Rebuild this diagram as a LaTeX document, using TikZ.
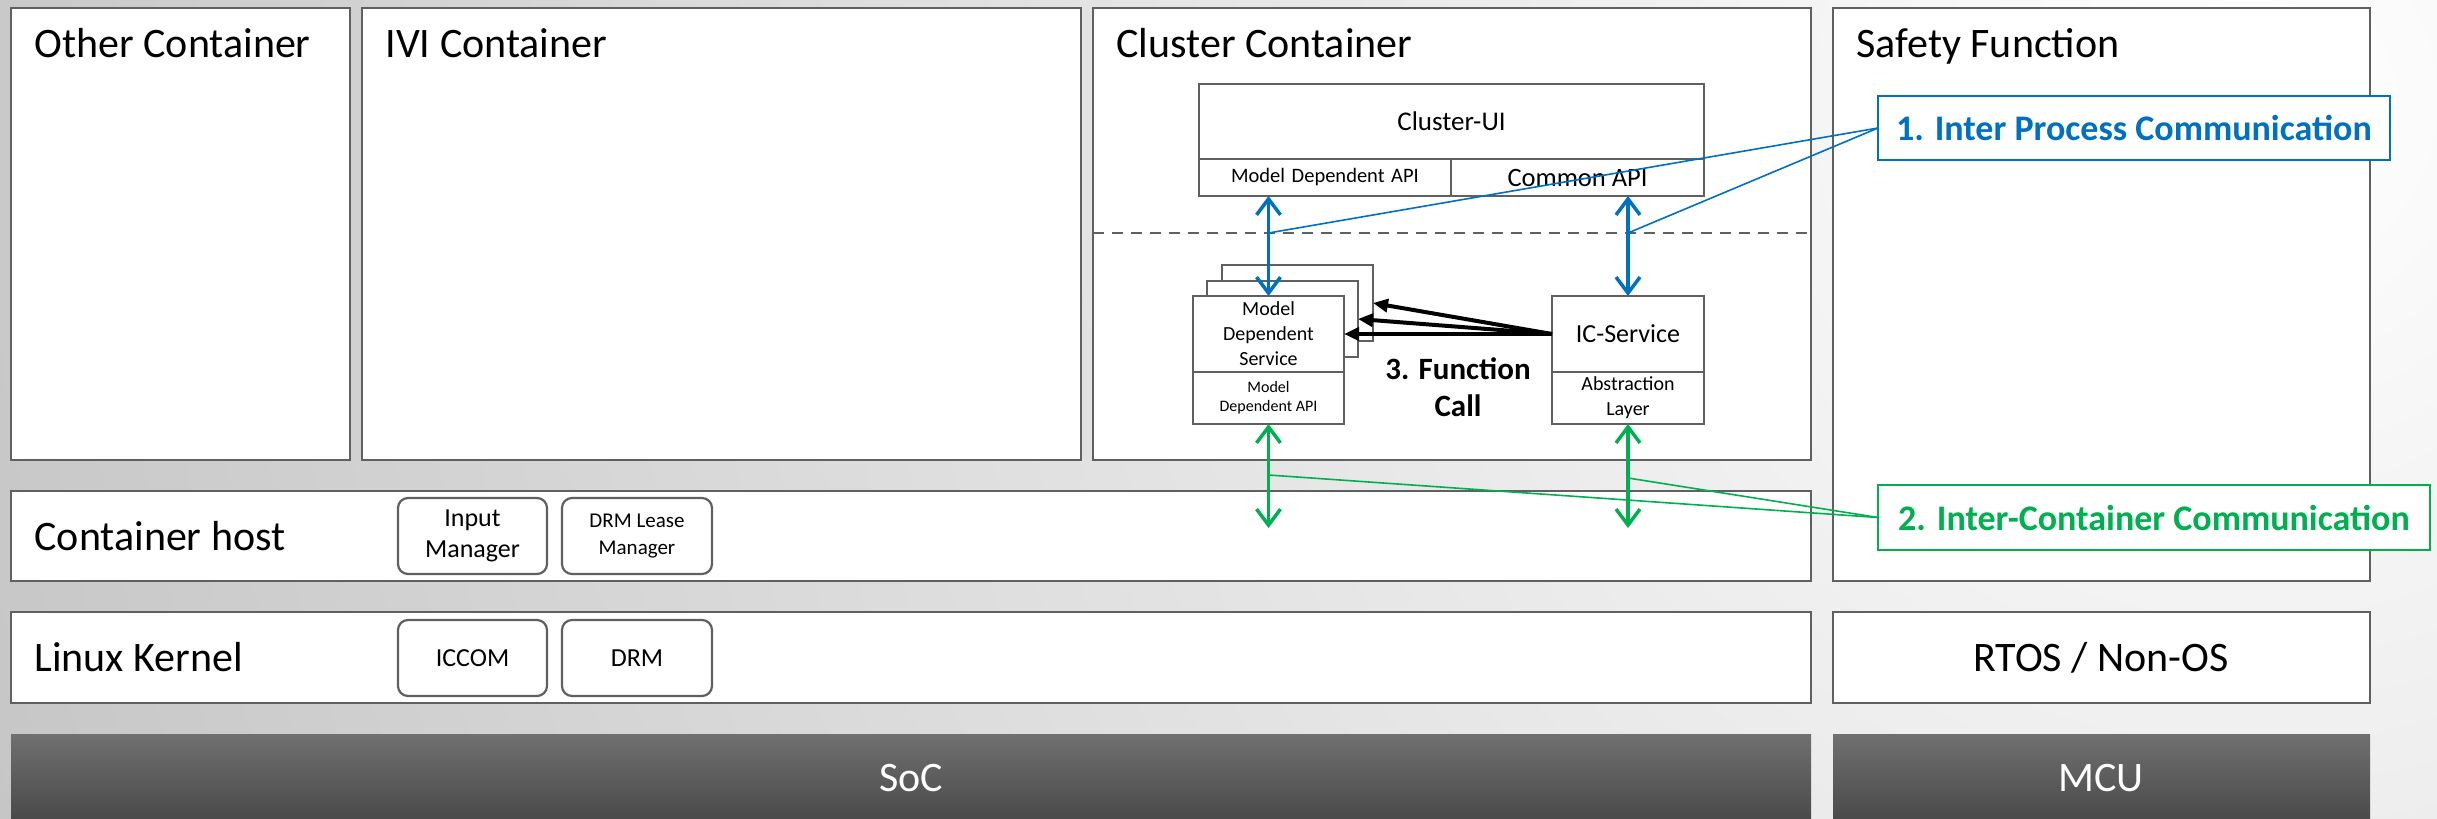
\documentclass[tikz,border=0pt]{standalone}
\usepackage{fontspec}
\setmainfont{Carlito}
\usetikzlibrary{arrows.meta}
\definecolor{boxgray}{RGB}{96,96,96}
\definecolor{ipcblue}{RGB}{0,112,192}
\definecolor{iccgreen}{RGB}{0,176,80}
\definecolor{bggray}{RGB}{196,196,196}
\definecolor{socTop}{RGB}{112,112,112}
\definecolor{socBot}{RGB}{74,74,74}
\newcommand\fsz[2]{\fontsize{#1}{#2}\selectfont}
\newcommand\mkbox[7]{\node[#6, anchor=north west, inner sep=0pt, outer sep=0pt,
  minimum width={(#4-#2)*1pt}, minimum height={(#5-#3)*1pt}] (#1) at (#2,#3) {#7};}
\begin{document}
\begin{tikzpicture}[x=1pt,y=-1pt,
  box/.style={draw=boxgray, line width=2.5pt, fill=white},
  ibox/.style={draw=boxgray, line width=2.5pt, fill=white, align=center},
  rbox/.style={draw=boxgray, line width=2.2pt, fill=white, rounded corners=10pt, align=center},
  socbox/.style={top color=socTop, bottom color=socBot, draw=none},
  title/.style={font=\fsz{42}{50}},
  callout/.style={draw=#1, text=#1, fill=white, line width=2.5pt, font=\bfseries\fsz{36}{40}},
  ipcarrow/.style={{Straight Barb[length=16pt,width=24pt]}-{Straight Barb[length=16pt,width=24pt]}, line width=3.5pt, ipcblue},
  iccarrow/.style={{Straight Barb[length=16pt,width=24pt]}-{Straight Barb[length=16pt,width=24pt]}, line width=3.5pt, iccgreen},
  ipcline/.style={line width=1.6pt, ipcblue},
  iccline/.style={line width=1.6pt, iccgreen},
  fcarrow/.style={-{Triangle[length=15pt,width=13pt]}, line width=4pt, black},
  dashline/.style={draw=boxgray, line width=2.5pt, dash pattern=on 11pt off 8pt}
]
\useasboundingbox (0,0) rectangle (2437,819);
\begin{scope}
  \clip (0,0) rectangle (2437,819);
  \shade[inner color=white, outer color=bggray] (2250pt,-100pt) circle (2450pt);
\end{scope}

% containers
\mkbox{other}{11}{8}{350}{460}{box}{}
\mkbox{ivi}{362}{8}{1081}{460}{box}{}
\mkbox{cluster}{1093}{8}{1811}{460}{box}{}
\mkbox{safety}{1833}{8}{2370}{581}{box}{}
\mkbox{host}{11}{491}{1811}{581}{box}{}
\mkbox{kernel}{11}{612}{1811}{703}{box}{}
\mkbox{rtos}{1833}{612}{2370}{703}{box}{}
\mkbox{soc}{11}{734}{1811}{819}{socbox}{}
\mkbox{mcu}{1833}{734}{2370}{819}{socbox}{}

% titles
\node[title, anchor=base west] (tOther) at (31,57) {Other Container};
\node[title, anchor=base west] (tIvi) at (382,57) {IVI Container};
\node[title, anchor=base west] (tCluster) at (1113,57) {Cluster Container};
\node[title, anchor=base west] (tSafety) at (1853,57) {Safety Function};
\node[title, anchor=base west] (tHost) at (31,550) {Container host};
\node[title, anchor=base west] (tKernel) at (31,671) {Linux Kernel};
\node[title, anchor=base] (tRtos) at (2101,671) {RTOS / Non-OS};
\node[title, anchor=base, text=white] (tSoc) at (911,791) {SoC};
\node[title, anchor=base, text=white] (tMcu) at (2101,791) {MCU};

% host / kernel components
\mkbox{inmgr}{398}{498}{547}{574}{rbox, font=\fsz{26}{31}}{Input\\Manager}
\mkbox{drmlm}{562}{498}{712}{574}{rbox, font=\fsz{21}{27}}{DRM Lease\\Manager}
\mkbox{iccom}{398}{620}{547}{696}{rbox, font=\fsz{26}{30}}{ICCOM}
\mkbox{drm}{562}{620}{712}{696}{rbox, font=\fsz{26}{30}}{DRM}

% cluster internals
\mkbox{cui}{1199}{84}{1704}{159}{ibox, font=\fsz{27}{32}}{Cluster-UI}
\mkbox{mdapi}{1199}{159}{1451}{196}{ibox, font=\fsz{20.5}{24}}{Model\hspace{.32em}Dependent\hspace{.32em}API}
\mkbox{capi}{1451}{159}{1704}{196}{ibox, font=\fsz{26.5}{30}}{Common API}
\mkbox{mdsB}{1222}{265}{1373}{341}{ibox}{}
\mkbox{mdsM}{1207}{281}{1358}{357}{ibox}{}
\mkbox{mds}{1193}{296}{1344}{372}{ibox, font=\fsz{20}{25}}{Model\\Dependent\\Service}
\mkbox{mdsapi}{1193}{372}{1344}{424}{ibox, font=\fsz{16}{19}}{Model\\Dependent API}
\mkbox{ics}{1552}{296}{1704}{372}{ibox, font=\fsz{26}{30}}{IC-Service}
\mkbox{abl}{1552}{372}{1704}{424}{ibox, font=\fsz{20}{25}}{Abstraction\\Layer}
\node[font=\bfseries\fsz{31}{37}, align=center] (fc) at (1458,387) {3. Function\\Call};

% dashed separator
\coordinate (dashL) at (1093,233);
\coordinate (dashR) at (1811,233);
\draw[dashline] (dashL) -- (dashR);

% function call arrows
\draw[fcarrow] (ics.west) -- (mdsB.east);
\draw[fcarrow] (ics.west) -- (mdsM.east);
\draw[fcarrow] (ics.west) -- (mds.east);

% IPC arrows
\draw[ipcarrow] (mds.north) -- (mds.north |- mdapi.south);
\draw[ipcarrow] (ics.north) -- (ics.north |- capi.south);

% inter-container arrows
\path (mdsapi.south) ++(0,104) coordinate (gLend);
\path (abl.south) ++(0,104) coordinate (gRend);
\draw[iccarrow] (mdsapi.south) -- (gLend);
\draw[iccarrow] (abl.south) -- (gRend);

% callouts
\mkbox{ipc}{1878}{96}{2390}{160}{callout=ipcblue}{1. Inter Process Communication}
\mkbox{icc}{1878}{485}{2430}{550}{callout=iccgreen}{2. Inter-Container Communication}

\coordinate (ipcA) at (mds.north |- dashL);
\coordinate (ipcB) at (ics.north |- dashL);
\draw[ipcline] (ipcA) -- (ipc.west);
\draw[ipcline] (ipcB) -- (ipc.west);
\path (mdsapi.south) ++(0,51) coordinate (iccA);
\path (abl.south) ++(0,54) coordinate (iccB);
\draw[iccline] (iccA) -- (icc.west);
\draw[iccline] (iccB) -- (icc.west);
\end{tikzpicture}
\end{document}
